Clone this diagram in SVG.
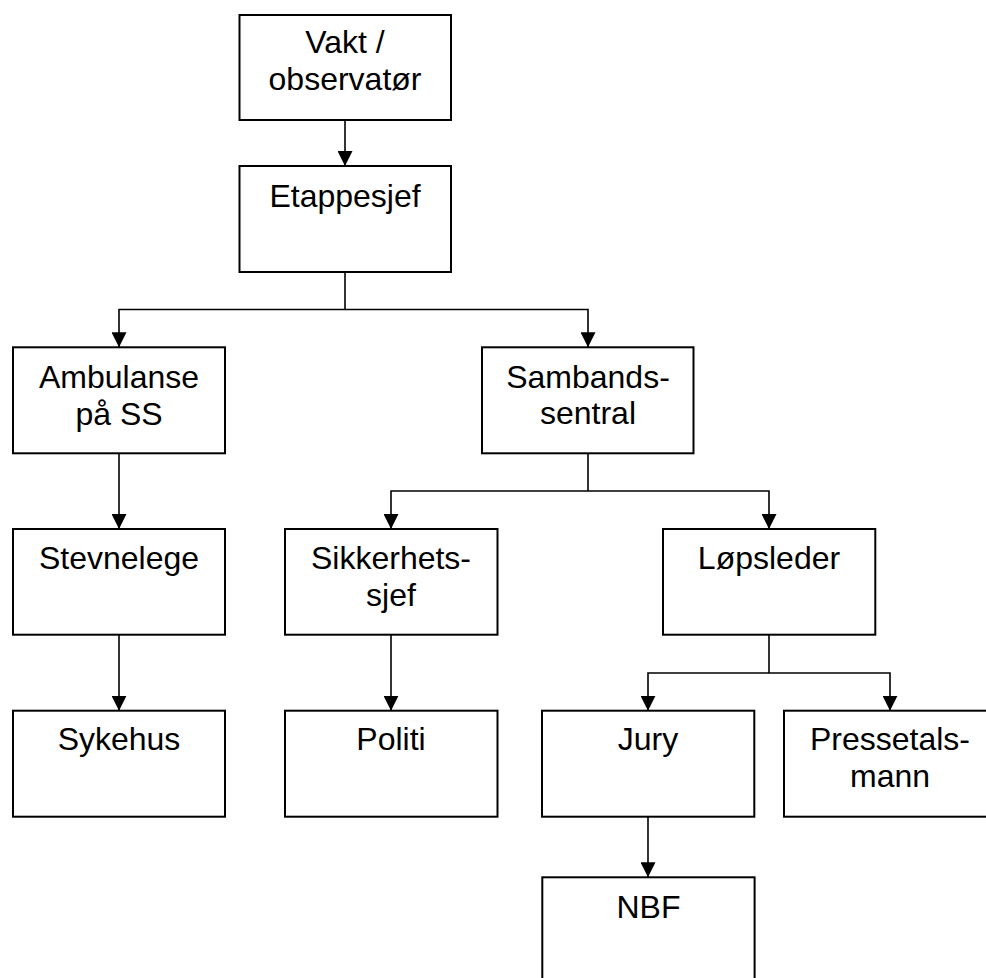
<svg xmlns="http://www.w3.org/2000/svg" width="986" height="978" viewBox="0 0 986 978">
<style>
.box{fill:#fff;stroke:#000;stroke-width:2}
.lbl{font-family:"Liberation Sans",Arial,sans-serif;font-size:32px;fill:#000;text-anchor:middle}
.con{fill:none;stroke:#000;stroke-width:1.6}
.arr{marker-end:url(#ah)}
</style>
<defs>
<marker id="ah" markerUnits="userSpaceOnUse" markerWidth="15" markerHeight="15" refX="15" refY="7.5" orient="auto" viewBox="0 0 15 15">
<path d="M0,0 L15,7.5 L0,15 z" fill="#000"/>
</marker>
</defs>
<rect width="986" height="978" fill="#fff"/>
<g id="connectors">
<path class="con arr" d="M345 120 V166"/>
<path class="con" d="M345 272 V309.5"/>
<path class="con arr" d="M345 309.5 H119 V347.3"/>
<path class="con arr" d="M345 309.5 H588 V347.3"/>
<path class="con arr" d="M119 453.3 V529"/>
<path class="con" d="M588 453.3 V491"/>
<path class="con arr" d="M588 491 H391 V529"/>
<path class="con arr" d="M588 491 H769 V529"/>
<path class="con arr" d="M119 634.7 V710.7"/>
<path class="con arr" d="M391 634.7 V710.7"/>
<path class="con" d="M769 634.7 V673"/>
<path class="con arr" d="M769 673 H648 V710.7"/>
<path class="con arr" d="M769 673 H890 V710.7"/>
<path class="con arr" d="M648 816.7 V877.3"/>
</g>
<g id="vakt">
<rect class="box" x="239.5" y="15" width="211.5" height="105"/>
<text class="lbl" x="345" y="52.5">Vakt /</text>
<text class="lbl" x="345" y="90">observatør</text>
</g>
<g id="etappesjef">
<rect class="box" x="239.5" y="166" width="211.5" height="106"/>
<text class="lbl" x="345" y="206.5">Etappesjef</text>
</g>
<g id="ambulanse">
<rect class="box" x="13" y="347.3" width="212" height="106"/>
<text class="lbl" x="119" y="388.3">Ambulanse</text>
<text class="lbl" x="119" y="424.5">på SS</text>
</g>
<g id="sambandssentral">
<rect class="box" x="482" y="347.3" width="211.5" height="106"/>
<text class="lbl" x="588" y="388">Sambands-</text>
<text class="lbl" x="588" y="424.3">sentral</text>
</g>
<g id="stevnelege">
<rect class="box" x="13" y="529" width="212" height="105.7"/>
<text class="lbl" x="119" y="569.3">Stevnelege</text>
</g>
<g id="sikkerhetssjef">
<rect class="box" x="285" y="529" width="212.5" height="105.7"/>
<text class="lbl" x="391" y="569.3">Sikkerhets-</text>
<text class="lbl" x="391" y="605.7">sjef</text>
</g>
<g id="lopsleder">
<rect class="box" x="663" y="529" width="212.3" height="105.7"/>
<text class="lbl" x="769" y="569.3">Løpsleder</text>
</g>
<g id="sykehus">
<rect class="box" x="13" y="710.7" width="212" height="106"/>
<text class="lbl" x="119" y="750">Sykehus</text>
</g>
<g id="politi">
<rect class="box" x="285" y="710.7" width="212.5" height="106"/>
<text class="lbl" x="391" y="750">Politi</text>
</g>
<g id="jury">
<rect class="box" x="542" y="710.7" width="212.3" height="106"/>
<text class="lbl" x="648" y="750">Jury</text>
</g>
<g id="pressetalsmann">
<rect class="box" x="784" y="710.7" width="212.3" height="106"/>
<text class="lbl" x="890" y="750">Pressetals-</text>
<text class="lbl" x="890" y="786.7">mann</text>
</g>
<g id="nbf">
<rect class="box" x="542.3" y="877.3" width="212.3" height="106"/>
<text class="lbl" x="648.5" y="917.7">NBF</text>
</g>
</svg>
